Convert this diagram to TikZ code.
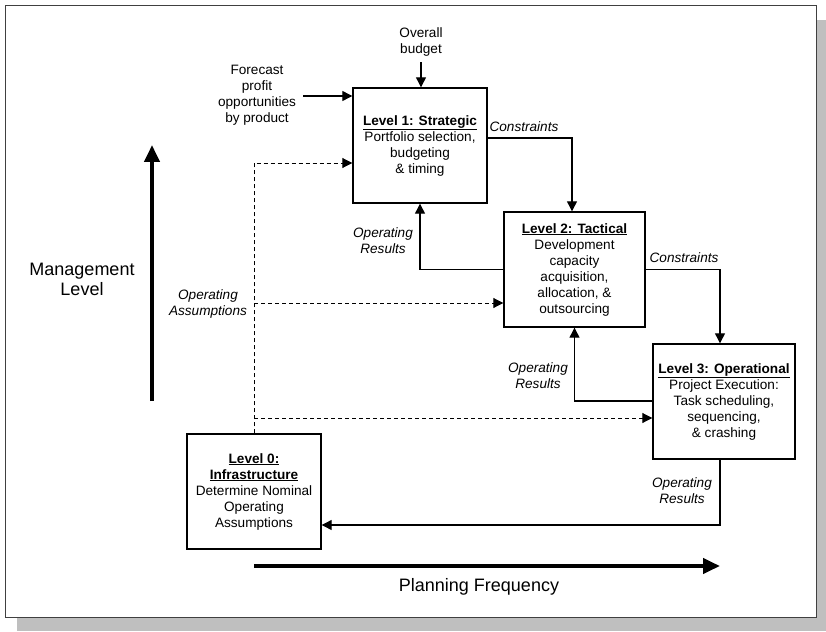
\documentclass[tikz,border=0pt]{standalone}
\usepackage{fontspec}
\setmainfont{Liberation Sans}
\usetikzlibrary{arrows.meta}

\newcommand\bodyfont{\fontsize{13.6}{16}\selectfont}
\newcommand\axisfont{\fontsize{18}{19.5}\selectfont}
\newcommand\head[1]{\underline{\textbf{#1}}}

\tikzset{
  levelbox/.style={draw, line width=1.4pt, minimum width=#1, minimum height=115pt,
                   align=center, inner sep=0pt, font=\bodyfont},
  levelbox/.default=134pt,
  conn/.style={line width=1.2pt, -{Triangle[length=10pt,width=10pt]}},
  dconn/.style={line width=0.9pt, dash pattern=on 4pt off 3pt,
                -{Triangle[length=10pt,width=10pt]}},
  txt/.style={align=center, inner sep=0pt, anchor=north, font=\bodyfont},
  itxt/.style={txt, font=\bodyfont\itshape},
  axistxt/.style={align=center, inner sep=0pt, anchor=north, font=\axisfont},
  bigarrow/.style={line width=4pt, -{Triangle[length=17pt,width=15pt]}}
}

\begin{document}
\begin{tikzpicture}[x=1pt, y=-1pt]
  \useasboundingbox (0,0) rectangle (826,631);

  % page frame with drop shadow
  \fill[black!25] (17,20) rectangle (826,631);
  \filldraw[fill=white, draw=black!75, line width=1pt] (5,6) rectangle (816,617);

  % planning levels
  \node[levelbox] (L1) at (420,145.5)
    {\head{Level 1: Strategic}\\Portfolio selection,\\budgeting\\\& timing};
  \node[levelbox=141pt] (L2) at (574.5,269.5)
    {\head{Level 2: Tactical}\\Development\\capacity\\acquisition,\\allocation, \&\\outsourcing};
  \node[levelbox=142pt] (L3) at (724,401.5)
    {\head{Level 3: Operational}\\Project Execution:\\Task scheduling,\\sequencing,\\\& crashing};
  \node[levelbox] (L0) at (254,491.5)
    {\head{Level 0:}\\\head{Infrastructure}\\Determine Nominal\\Operating\\Assumptions};

  % external inputs to level 1
  \node[txt] (OB) at (421,27.3) {Overall\\budget};
  \draw[conn] ([yshift=-6pt]OB.south) -- (OB.south |- L1.north);
  \node[txt] (FC) at (257,65.3) {Forecast\\profit\\opportunities\\by product};
  \coordinate (fcs) at (303,96);
  \draw[conn] (fcs) -- (fcs -| L1.west);

  % constraints passed downwards
  \draw[conn] ([yshift=7.5pt]L1.east) -| ([xshift=-2.5pt]L2.north);
  \node[itxt] (C1) at (524,121.3) {Constraints};
  \draw[conn] (L2.east) -| ([xshift=-4pt]L3.north);
  \node[itxt] (C2) at (684,252.3) {Constraints};

  % operating results passed upwards
  \draw[conn] (L2.west) -| (L1.south);
  \node[itxt] (R1) at (383,227.3) {Operating\\Results};
  \draw[conn] ([yshift=0.5pt]L3.west) -| (L2.south);
  \node[itxt] (R2) at (538,362.3) {Operating\\Results};
  \draw[conn] ([xshift=-4pt]L3.south) |- ([yshift=-33.5pt]L0.east);
  \node[itxt] (R3) at (682,477.3) {Operating\\Results};

  % operating assumptions from level 0
  \coordinate (a1) at ([yshift=-17.5pt]L1.west);
  \coordinate (a2) at ([yshift=-33.5pt]L2.west);
  \coordinate (a3) at ([yshift=-16.5pt]L3.west);
  \draw[dconn] (L0.north) |- (a1);
  \draw[dconn] (a2 -| L0.north) -- (a2);
  \draw[dconn] (a3 -| L0.north) -- (a3);
  \node[itxt] (OA) at (208,289.5) {Operating\\Assumptions};

  % axes
  \coordinate (mb) at (152,401);
  \coordinate (mt) at (152,145);
  \draw[bigarrow] (mb) -- (mt);
  \node[axistxt] (ML) at (82,263) {Management\\Level};
  \coordinate (pl) at (254,566);
  \coordinate (pr) at (720,566);
  \draw[bigarrow] (pl) -- (pr);
  \node[axistxt] (PF) at (479,578) {Planning Frequency};
\end{tikzpicture}
\end{document}
